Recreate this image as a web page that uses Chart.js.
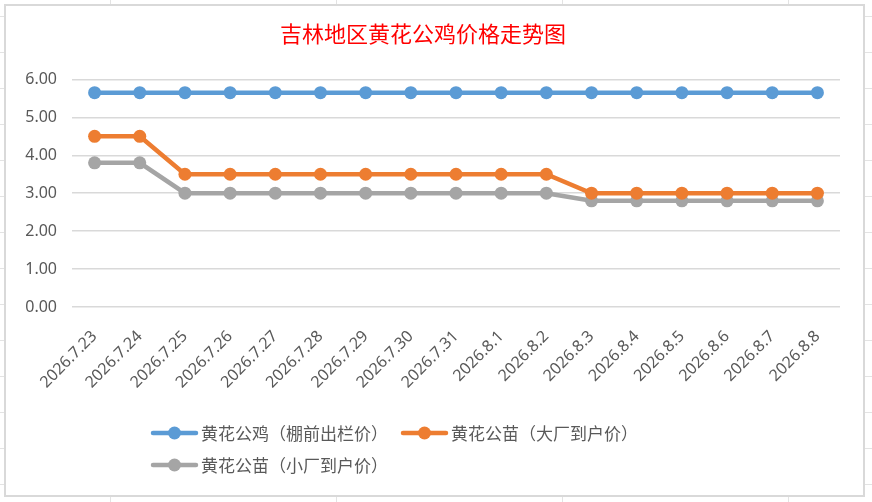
<!DOCTYPE html>
<html lang="zh">
<head>
  <meta charset="UTF-8">
  <title>吉林地区黄花公鸡价格走势图</title>
  <script src="https://cdn.jsdelivr.net/npm/chart.js"></script>
  <style>
    /* 背景模拟表格线 */
    html, body {
      margin: 0;
      width: 872px;
      height: 502px;
      overflow: hidden;
      background-color: #fff;
      background-image:
        repeating-linear-gradient(to bottom, transparent 0, transparent 16px, #e3e3e3 16px, #e3e3e3 17px, transparent 17px, transparent 36px),
        repeating-linear-gradient(to right, transparent 0, transparent 110px, #e3e3e3 110px, #e3e3e3 111px, transparent 111px, transparent 226px);
    }

    .chart-box {
      position: absolute;
      left: 4px;
      top: 4px;
      width: 861px;
      height: 493px;
      box-sizing: border-box;
      border: 2px solid #d9d9d9;
      background: #fff;
    }
  </style>
</head>
<body>
<div class="chart-box">
  <canvas id="chart"></canvas>
</div>

<script>
  // 日期（横轴）
  const dates = [
    '2026.7.23', '2026.7.24', '2026.7.25', '2026.7.26', '2026.7.27', '2026.7.28',
    '2026.7.29', '2026.7.30', '2026.7.31', '2026.8.1', '2026.8.2', '2026.8.3',
    '2026.8.4', '2026.8.5', '2026.8.6', '2026.8.7', '2026.8.8'
  ];
  // 黄花公鸡（棚前出栏价）
  const roosterPrice = [5.65, 5.65, 5.65, 5.65, 5.65, 5.65, 5.65, 5.65, 5.65, 5.65, 5.65, 5.65, 5.65, 5.65, 5.65, 5.65, 5.65];
  // 黄花公苗（大厂到户价）
  const bigChickPrice = [4.5, 4.5, 3.5, 3.5, 3.5, 3.5, 3.5, 3.5, 3.5, 3.5, 3.5, 3.0, 3.0, 3.0, 3.0, 3.0, 3.0];
  // 黄花公苗（小厂到户价）
  const smallChickPrice = [3.8, 3.8, 3.0, 3.0, 3.0, 3.0, 3.0, 3.0, 3.0, 3.0, 3.0, 2.8, 2.8, 2.8, 2.8, 2.8, 2.8];
  // 纵轴刻度
  const yTicks = [0, 1, 2, 3, 4, 5, 6];

  const seriesNames = ['黄花公鸡（棚前出栏价）', '黄花公苗（大厂到户价）', '黄花公苗（小厂到户价）'];
  const seriesColors = ['#5b9bd5', '#ed7d31', '#a5a5a5'];
  const textColor = '#595959';
  const cjkFont = '"Noto Sans CJK SC", "Noto Sans", sans-serif';

  function makeDataset(i, data) {
    return {
      label: seriesNames[i],
      data: data,
      borderColor: seriesColors[i],
      backgroundColor: seriesColors[i],
      borderWidth: 4.5,
      pointRadius: 6.5,
      pointBorderWidth: 0,
      tension: 0
    };
  }

  // 自绘图例：每行两项，左对齐
  const excelLegend = {
    id: 'excelLegend',
    afterDraw(chart) {
      const ctx = chart.ctx;
      const rowTop = 427, rowGap = 32, left = 147, lineLen = 43, itemGap = 15;
      ctx.save();
      ctx.font = '17px ' + cjkFont;
      ctx.textBaseline = 'middle';
      ctx.textAlign = 'left';
      let x = left, y = rowTop;
      chart.data.datasets.forEach((ds, i) => {
        if (i > 0 && i % 2 === 0) { x = left; y += rowGap; }
        ctx.strokeStyle = ds.borderColor;
        ctx.lineWidth = 4.5;
        ctx.lineCap = 'round';
        ctx.beginPath();
        ctx.moveTo(x, y);
        ctx.lineTo(x + lineLen, y);
        ctx.stroke();
        ctx.fillStyle = ds.borderColor;
        ctx.beginPath();
        ctx.arc(x + lineLen / 2, y, 6.5, 0, Math.PI * 2);
        ctx.fill();
        ctx.fillStyle = textColor;
        ctx.fillText(ds.label, x + lineLen + 5, y + 1);
        x += lineLen + 5 + ctx.measureText(ds.label).width + itemGap;
      });
      ctx.restore();
    }
  };

  new Chart(document.getElementById('chart'), {
    type: 'line',
    data: {
      labels: dates,
      datasets: [
        makeDataset(0, roosterPrice),
        makeDataset(1, bigChickPrice),
        makeDataset(2, smallChickPrice)
      ]
    },
    options: {
      responsive: true,
      maintainAspectRatio: false,
      animation: false,
      layout: { padding: { left: 0, right: 23, top: 0, bottom: 88 } },
      plugins: {
        legend: { display: false },
        tooltip: { enabled: false },
        title: {
          display: true,
          text: '吉林地区黄花公鸡价格走势图',
          color: '#ff0000',
          font: { family: cjkFont, size: 22, weight: 'normal', lineHeight: 1.2 },
          padding: { top: 14, bottom: 33 }
        }
      },
      scales: {
        x: {
          offset: true,
          grid: { display: false },
          border: { display: false },
          ticks: {
            color: textColor,
            font: { family: '"Noto Sans", sans-serif', size: 16 },
            minRotation: 45,
            maxRotation: 45,
            autoSkip: false,
            padding: 12
          },
          afterFit(scale) { scale.height = 100; }
        },
        y: {
          min: yTicks[0],
          max: yTicks[yTicks.length - 1],
          grid: { color: '#d9d9d9', lineWidth: 1.5, drawTicks: false },
          border: { display: false },
          afterBuildTicks(scale) { scale.ticks = yTicks.map(v => ({ value: v })); },
          ticks: {
            color: textColor,
            font: { family: '"Noto Sans", sans-serif', size: 16 },
            padding: 15,
            callback: v => Number(v).toFixed(2)
          },
          afterFit(scale) { scale.width = 66; }
        }
      }
    },
    plugins: [excelLegend]
  });
</script>
</body>
</html>
